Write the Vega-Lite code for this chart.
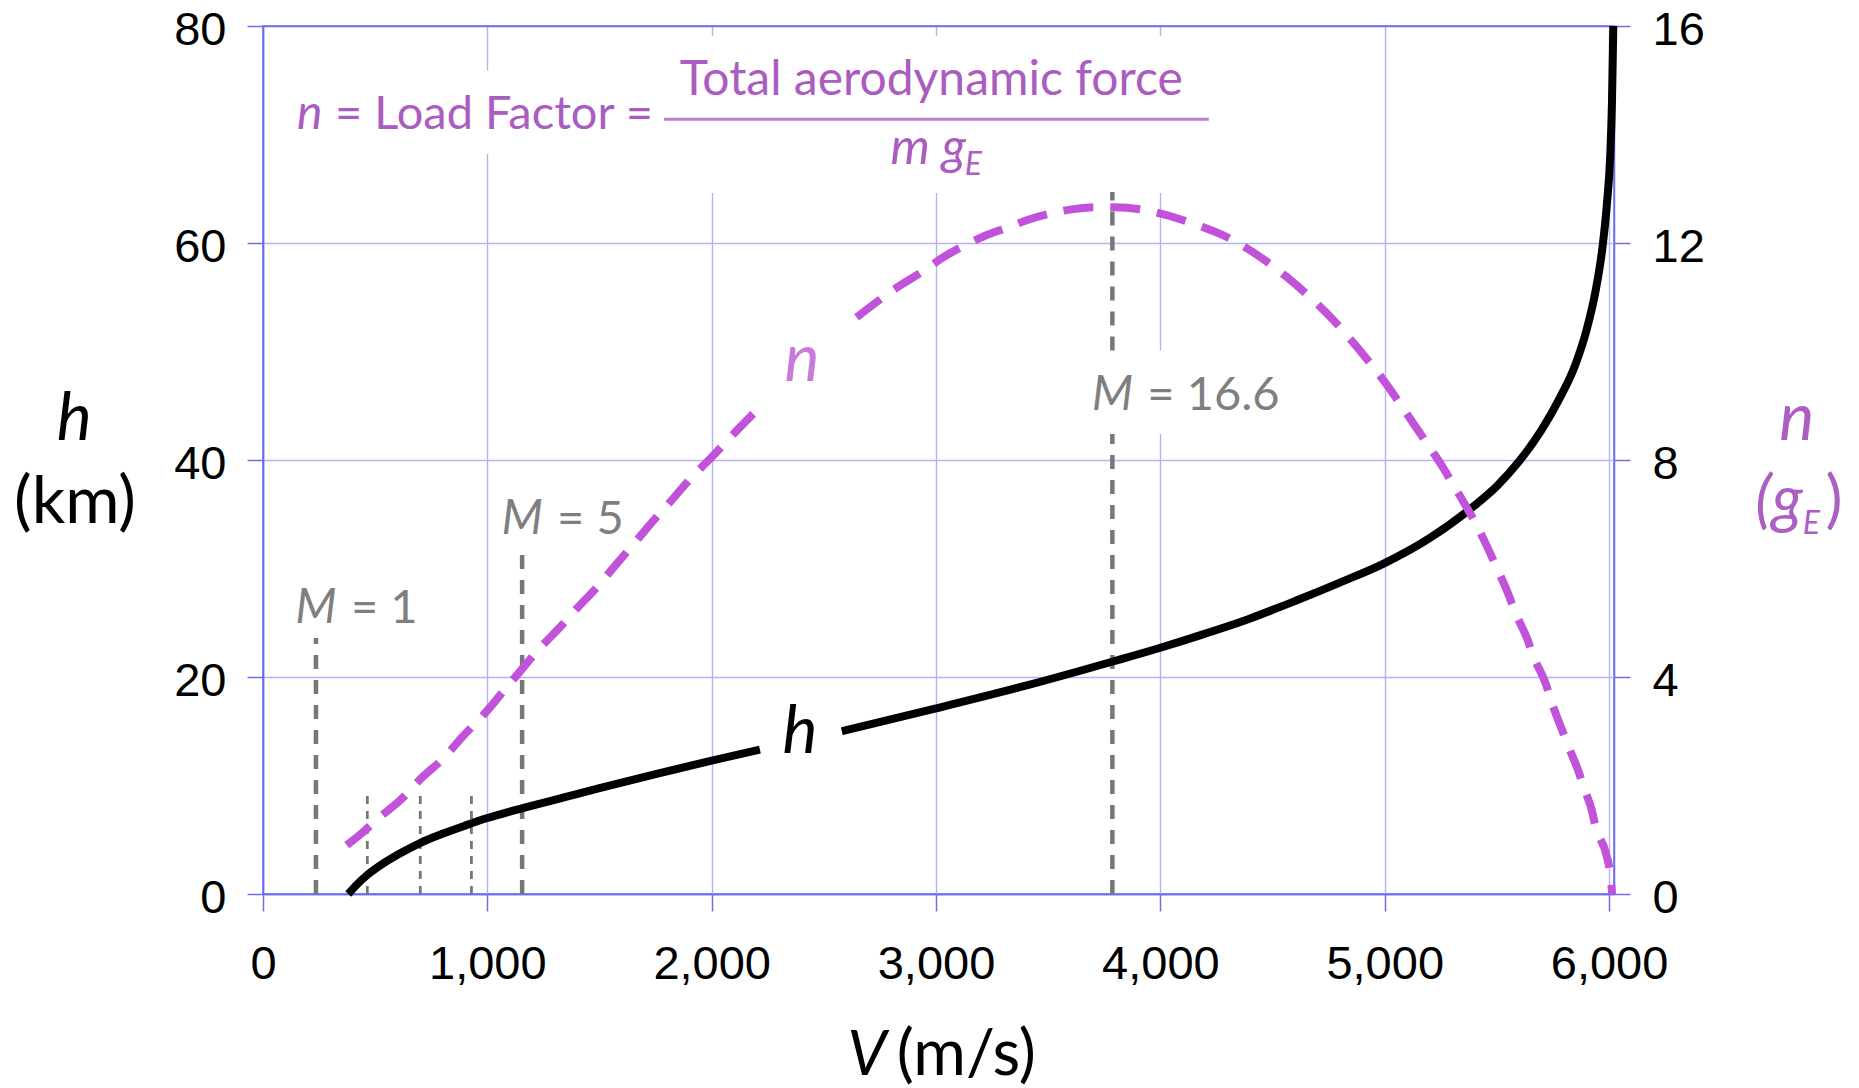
{
"$schema":"https://vega.github.io/schema/vega-lite/v6.json",
"width":1351,"height":868,
"autosize":{"type":"none"},
"padding":{"left":263,"top":26,"right":245,"bottom":194},
"background":"#ffffff",
"config":{"view":{"stroke":"#6c6cec","strokeWidth":1.5},"axis":{"labelFlush":false,"labelOverlap":false}},
"datasets":{
"hcurve":[
{"V":380,"h":0,"seg":"a"},{"V":420,"h":0.9,"seg":"a"},{"V":462,"h":1.7,"seg":"a"},{"V":550,"h":3.0,"seg":"a"},{"V":620,"h":3.85,"seg":"a"},{"V":700,"h":4.7,"seg":"a"},{"V":800,"h":5.55,"seg":"a"},{"V":900,"h":6.3,"seg":"a"},{"V":1000,"h":7.0,"seg":"a"},{"V":1100,"h":7.6,"seg":"a"},{"V":1200,"h":8.15,"seg":"a"},{"V":1350,"h":8.95,"seg":"a"},{"V":1500,"h":9.75,"seg":"a"},{"V":1750,"h":11.05,"seg":"a"},{"V":2000,"h":12.3,"seg":"a"},{"V":2215,"h":13.3,"seg":"a"},
{"V":2580,"h":15.0,"seg":"b"},{"V":3000,"h":17.1,"seg":"b"},{"V":3400,"h":19.2,"seg":"b"},{"V":3800,"h":21.5,"seg":"b"},{"V":4000,"h":22.7,"seg":"b"},{"V":4200,"h":24.0,"seg":"b"},{"V":4400,"h":25.4,"seg":"b"},{"V":4600,"h":27.0,"seg":"b"},{"V":4800,"h":28.7,"seg":"b"},{"V":5000,"h":30.5,"seg":"b"},{"V":5200,"h":32.8,"seg":"b"},{"V":5400,"h":35.8,"seg":"b"},{"V":5500,"h":37.6,"seg":"b"},{"V":5600,"h":39.9,"seg":"b"},{"V":5700,"h":42.8,"seg":"b"},{"V":5780,"h":45.7,"seg":"b"},{"V":5850,"h":48.8,"seg":"b"},{"V":5900,"h":52.0,"seg":"b"},{"V":5940,"h":55.6,"seg":"b"},{"V":5970,"h":59.5,"seg":"b"},{"V":5990,"h":63.5,"seg":"b"},{"V":6005,"h":68,"seg":"b"},{"V":6013,"h":73,"seg":"b"},{"V":6019,"h":80,"seg":"b"}
],
"ncurve":[
{"V":373,"n":0.9,"seg":"a"},{"V":440,"n":1.12,"seg":"a"},{"V":504,"n":1.36,"seg":"a"},{"V":625,"n":1.78,"seg":"a"},{"V":697,"n":2.1,"seg":"a"},{"V":811,"n":2.53,"seg":"a"},{"V":885,"n":2.88,"seg":"a"},{"V":993,"n":3.35,"seg":"a"},{"V":1056,"n":3.66,"seg":"a"},{"V":1145,"n":4.1,"seg":"a"},{"V":1227,"n":4.5,"seg":"a"},{"V":1331,"n":4.95,"seg":"a"},{"V":1394,"n":5.24,"seg":"a"},{"V":1494,"n":5.68,"seg":"a"},{"V":1563,"n":6.02,"seg":"a"},{"V":1662,"n":6.5,"seg":"a"},{"V":1723,"n":6.8,"seg":"a"},{"V":1822,"n":7.26,"seg":"a"},{"V":1903,"n":7.65,"seg":"a"},{"V":2006,"n":8.08,"seg":"a"},{"V":2074,"n":8.38,"seg":"a"},{"V":2185,"n":8.85,"seg":"a"},
{"V":2646,"n":10.63,"seg":"b"},{"V":2764,"n":11.0,"seg":"b"},{"V":2833,"n":11.2,"seg":"b"},{"V":2950,"n":11.5,"seg":"b"},{"V":3026,"n":11.72,"seg":"b"},{"V":3149,"n":12.0,"seg":"b"},{"V":3211,"n":12.12,"seg":"b"},{"V":3329,"n":12.3,"seg":"b"},{"V":3404,"n":12.42,"seg":"b"},{"V":3530,"n":12.56,"seg":"b"},{"V":3604,"n":12.62,"seg":"b"},{"V":3717,"n":12.66,"seg":"b"},{"V":3793,"n":12.66,"seg":"b"},{"V":3912,"n":12.62,"seg":"b"},{"V":3982,"n":12.56,"seg":"b"},{"V":4102,"n":12.42,"seg":"b"},{"V":4171,"n":12.32,"seg":"b"},{"V":4291,"n":12.12,"seg":"b"},{"V":4371,"n":11.94,"seg":"b"},{"V":4480,"n":11.64,"seg":"b"},{"V":4567,"n":11.36,"seg":"b"},{"V":4662,"n":11.02,"seg":"b"},{"V":4757,"n":10.64,"seg":"b"},{"V":4844,"n":10.24,"seg":"b"},{"V":4913,"n":9.9,"seg":"b"},{"V":5000,"n":9.44,"seg":"b"},{"V":5061,"n":9.08,"seg":"b"},{"V":5130,"n":8.66,"seg":"b"},{"V":5199,"n":8.24,"seg":"b"},{"V":5260,"n":7.86,"seg":"b"},{"V":5303,"n":7.56,"seg":"b"},{"V":5355,"n":7.2,"seg":"b"},{"V":5399,"n":6.88,"seg":"b"},{"V":5459,"n":6.38,"seg":"b"},{"V":5494,"n":6.06,"seg":"b"},{"V":5546,"n":5.58,"seg":"b"},{"V":5581,"n":5.2,"seg":"b"},{"V":5641,"n":4.64,"seg":"b"},{"V":5659,"n":4.42,"seg":"b"},{"V":5719,"n":3.86,"seg":"b"},{"V":5737,"n":3.62,"seg":"b"},{"V":5789,"n":3.04,"seg":"b"},{"V":5815,"n":2.76,"seg":"b"},{"V":5867,"n":2.22,"seg":"b"},{"V":5884,"n":2.0,"seg":"b"},{"V":5927,"n":1.48,"seg":"b"},{"V":5936,"n":1.3,"seg":"b"},{"V":5988,"n":0.72,"seg":"b"},{"V":6005,"n":0.38,"seg":"b"},{"V":6014,"n":0.0,"seg":"b"}
],
"machMajor":[{"V":236,"h":0,"h2":23.6},{"V":1155,"h":0,"h2":31.8},{"V":3786,"h":0,"h2":42.4},{"V":3786,"h":50.1,"h2":64.7}],
"machMinor":[{"V":465,"h":0,"h2":9.4},{"V":701,"h":0,"h2":9.4},{"V":929,"h":0,"h2":9.4}],
"machLabels":[{"V":236,"h":25.0,"m":"M","eq":"= 1"},{"V":1155,"h":33.2,"m":"M","eq":"= 5"},{"V":3786,"h":44.6,"m":"M","eq":"= 16.6"}],
"boxes":[{"V":130,"V2":1790,"h":68.2,"h2":75.9},{"V":1780,"V2":4230,"h":64.6,"h2":79.1},{"V":3700,"V2":4560,"h":42.4,"h2":50.1}],
"fraction":[{"V":1787,"V2":4216,"h":71.4}],
"labels":[
{"k":"fReg","t":"= Load Factor =","V":321,"h":70.5},
{"k":"fCen","t":"Total aerodynamic force","V":2979,"h":73.6},
{"k":"fIt","t":"n","V":152,"h":70.5},
{"k":"fMg","t":"m g","V":3133,"h":67.3},
{"k":"sub","t":"E","V":3128,"h":66.3},
{"k":"sub","t":"E","V":6863,"h":33.2},
{"k":"rN","t":"n","V":6836,"h":41.8},
{"k":"rG","t":"(g","V":6863,"h":34.4},
{"k":"rP","t":")","V":6965,"h":34.4},
{"k":"lH","t":"h","V":-842,"h":41.8},
{"k":"lKm","t":"(km)","V":-838,"h":34.2},
{"k":"xV","t":"V","V":2692,"h":-16.7},
{"k":"xMs","t":"(m/s)","V":2825,"h":-16.7},
{"k":"cH","t":"h","V":2393,"h":13.0},
{"k":"cN","t":"n","V":2402,"h":47.3}
]
},
"encoding":{
"x":{"field":"V","type":"quantitative","scale":{"domain":[0,6022],"nice":false,"zero":false},
"axis":{"values":[0,1000,2000,3000,4000,5000,6000],"format":",d","title":null,"grid":true,
"gridColor":{"condition":{"test":"datum.value == 0","value":"#6c6cec"},"value":"#b3b3f1"},"gridWidth":1.4,
"domainColor":"#6c6cec","domainWidth":1.5,"tickColor":"#6c6cec","tickWidth":1.5,"tickSize":17,
"labelFont":"Liberation Sans","labelFontSize":47,"labelColor":"#000000","labelPadding":30}}
},
"layer":[
{
"encoding":{
"y":{"field":"h","type":"quantitative","scale":{"domain":[0,80],"nice":false,"zero":false},
"axis":{"values":[0,20,40,60,80],"format":"d","title":null,"grid":true,
"gridColor":{"condition":{"test":"datum.value == 80 || datum.value == 0","value":"#6c6cec"},"value":"#b3b3f1"},"gridWidth":1.4,
"domainColor":"#6c6cec","domainWidth":1.5,"tickColor":"#6c6cec","tickWidth":1.5,"tickSize":16,
"labelFont":"Liberation Sans","labelFontSize":47,"labelColor":"#000000","labelPadding":21,"labelOffset":4}}
},
"layer":[
{"data":{"name":"boxes"},"mark":{"type":"rect","fill":"#ffffff","strokeWidth":0},"encoding":{"x2":{"field":"V2"},"y2":{"field":"h2"}}},
{"data":{"name":"machMinor"},"mark":{"type":"rule","color":"#777777","strokeWidth":2.8,"strokeDash":[8,7]},"encoding":{"y2":{"field":"h2"}}},
{"data":{"name":"machMajor"},"mark":{"type":"rule","color":"#777777","strokeWidth":4.5,"strokeDash":[14,11]},"encoding":{"y2":{"field":"h2"}}},
{"data":{"name":"hcurve"},"mark":{"type":"line","color":"#000000","strokeWidth":8,"interpolate":"monotone","strokeCap":"butt"},"encoding":{"detail":{"field":"seg"}}},
{"data":{"name":"fraction"},"mark":{"type":"rule","color":"#c77ad9","strokeWidth":3},"encoding":{"x2":{"field":"V2"}}},
{"data":{"name":"machLabels"},"mark":{"type":"text","font":"Lato","fontSize":48,"fontStyle":"italic","color":"#7f7f7f","align":"center","baseline":"alphabetic"},"encoding":{"text":{"field":"m"}}},
{"data":{"name":"machLabels"},"mark":{"type":"text","font":"Lato","fontSize":47,"color":"#7f7f7f","align":"left","baseline":"alphabetic","dx":35},"encoding":{"text":{"field":"eq"}}},
{"data":{"name":"labels"},"transform":[{"filter":{"field":"k","equal":"fReg"}}],"mark":{"type":"text","font":"Lato","fontSize":47,"color":"#ab5cc0","align":"left","baseline":"alphabetic"},"encoding":{"text":{"field":"t"}}},
{"data":{"name":"labels"},"transform":[{"filter":{"field":"k","equal":"fCen"}}],"mark":{"type":"text","font":"Lato","fontSize":48,"color":"#ab5cc0","align":"center","baseline":"alphabetic"},"encoding":{"text":{"field":"t"}}},
{"data":{"name":"labels"},"transform":[{"filter":{"field":"k","equal":"fIt"}}],"mark":{"type":"text","font":"Lato","fontSize":48,"fontStyle":"italic","color":"#ab5cc0","align":"left","baseline":"alphabetic"},"encoding":{"text":{"field":"t"}}},
{"data":{"name":"labels"},"transform":[{"filter":{"field":"k","equal":"fMg"}}],"mark":{"type":"text","font":"Lato","fontSize":50,"fontStyle":"italic","color":"#ab5cc0","align":"right","baseline":"alphabetic"},"encoding":{"text":{"field":"t"}}},
{"data":{"name":"labels"},"transform":[{"filter":{"field":"k","equal":"sub"}}],"mark":{"type":"text","font":"Lato","fontSize":32,"fontStyle":"italic","color":"#ad5ec2","align":"left","baseline":"alphabetic"},"encoding":{"text":{"field":"t"}}},
{"data":{"name":"labels"},"transform":[{"filter":{"field":"k","equal":"rN"}}],"mark":{"type":"text","font":"Lato","fontSize":66,"fontStyle":"italic","color":"#ad5ec2","align":"center","baseline":"alphabetic"},"encoding":{"text":{"field":"t"}}},
{"data":{"name":"labels"},"transform":[{"filter":{"field":"k","equal":"rG"}}],"mark":{"type":"text","font":"Lato","fontSize":64,"fontStyle":"italic","color":"#ad5ec2","align":"right","baseline":"alphabetic"},"encoding":{"text":{"field":"t"}}},
{"data":{"name":"labels"},"transform":[{"filter":{"field":"k","equal":"rP"}}],"mark":{"type":"text","font":"Lato","fontSize":64,"color":"#ad5ec2","align":"left","baseline":"alphabetic"},"encoding":{"text":{"field":"t"}}},
{"data":{"name":"labels"},"transform":[{"filter":{"field":"k","oneOf":["lH","cH"]}}],"mark":{"type":"text","font":"Lato","fontSize":66,"fontStyle":"italic","color":"#000000","align":"center","baseline":"alphabetic"},"encoding":{"text":{"field":"t"}}},
{"data":{"name":"labels"},"transform":[{"filter":{"field":"k","equal":"lKm"}}],"mark":{"type":"text","font":"Lato","fontSize":66,"color":"#000000","align":"center","baseline":"alphabetic"},"encoding":{"text":{"field":"t"}}},
{"data":{"name":"labels"},"transform":[{"filter":{"field":"k","equal":"xV"}}],"mark":{"type":"text","font":"Lato","fontSize":62,"fontStyle":"italic","color":"#000000","align":"center","baseline":"alphabetic"},"encoding":{"text":{"field":"t"}}},
{"data":{"name":"labels"},"transform":[{"filter":{"field":"k","equal":"xMs"}}],"mark":{"type":"text","font":"Lato","fontSize":64,"color":"#000000","align":"left","baseline":"alphabetic"},"encoding":{"text":{"field":"t"}}},
{"data":{"name":"labels"},"transform":[{"filter":{"field":"k","equal":"cN"}}],"mark":{"type":"text","font":"Lato","fontSize":66,"fontStyle":"italic","color":"#c97bdb","align":"center","baseline":"alphabetic"},"encoding":{"text":{"field":"t"}}}
]
},
{"data":{"name":"ncurve"},
"mark":{"type":"line","color":"#c153db","strokeWidth":8,"strokeDash":[30,17],"interpolate":"monotone","strokeCap":"butt"},
"encoding":{
"y":{"field":"n","type":"quantitative","scale":{"domain":[0,16],"nice":false,"zero":false},
"axis":{"orient":"right","values":[0,4,8,12,16],"format":"d","title":null,"grid":false,
"domainColor":"#6c6cec","domainWidth":1.5,"tickColor":"#6c6cec","tickWidth":1.5,"tickSize":16,
"labelFont":"Liberation Sans","labelFontSize":47,"labelColor":"#000000","labelPadding":22,"labelOffset":4}},
"detail":{"field":"seg"}}}
],
"resolve":{"scale":{"y":"independent"}}
}
